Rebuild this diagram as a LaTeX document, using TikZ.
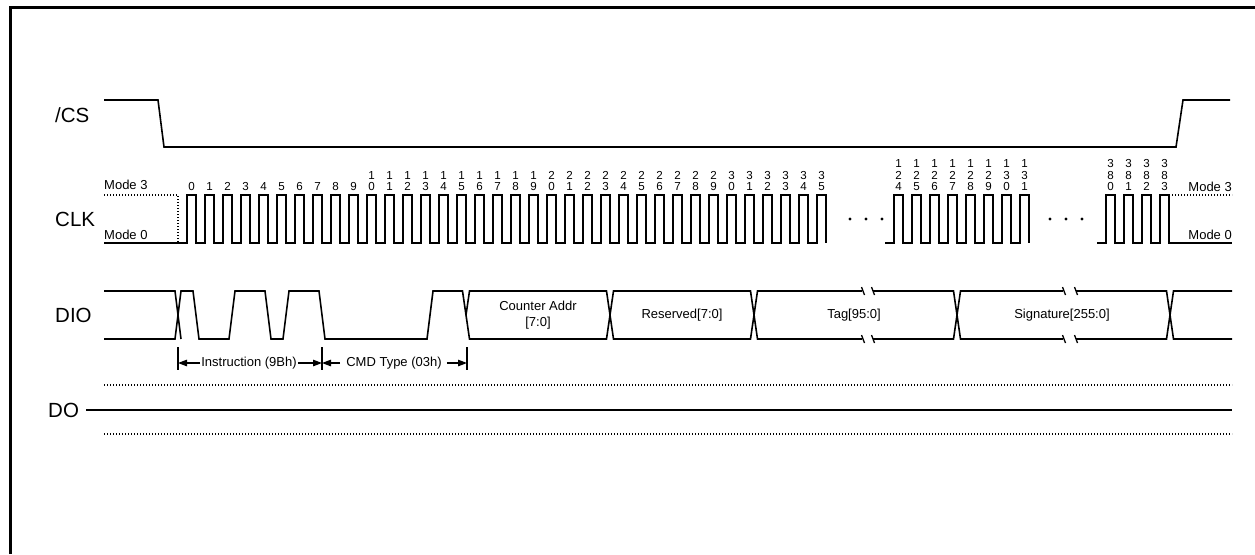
\documentclass[tikz,border=0pt]{standalone}
\usepackage{fontspec}
\setmainfont{Liberation Sans}
\usetikzlibrary{arrows.meta, positioning}

% stacked digits above one clock pulse
\newcommand{\clklabel}[2]{%
  \pgfmathtruncatemacro\dgA{mod(#2,10)}%
  \pgfmathtruncatemacro\dgB{mod(floor(#2/10),10)}%
  \pgfmathtruncatemacro\dgC{floor(#2/100)}%
  \ifnum#2<10 \node[clknum] (lbl#2) at (#1,191) {\dgA};%
  \else\ifnum#2<100 \node[clknum] (lbl#2) at (#1,191) {\dgB\\\dgA};%
  \else \node[clknum] (lbl#2) at (#1,191) {\dgC\\\dgB\\\dgA};\fi\fi}

% one bus cell between two boundaries
\newcommand{\buscell}[2]{%
  \draw[sig] (#1,315) -- (#1+3.5,291) -- (#2-3.5,291) -- (#2,315) -- (#2-3.5,339) -- (#1+3.5,339) -- cycle;}

% break mark on a bus line
\newcommand{\brk}[2]{\draw[brkline] (#1-1.5,#2-4) -- (#1+1.5,#2+4);}

\begin{document}
\begin{tikzpicture}[x=1pt,y=-1pt,>={Triangle[length=9pt,width=6.5pt]},
        sig/.style={line width=1.6pt},
        dots/.style={line width=1.2pt,dash pattern=on 1.2pt off 1.8pt},
        brkline/.style={line width=1.3pt},
        every node/.style={inner sep=0pt}]
  \tikzstyle{signame}=[anchor=west,font=\fontsize{20.5}{24}\selectfont]
  \tikzstyle{modetxt}=[anchor=base west,font=\fontsize{13}{15}\selectfont]
  \tikzstyle{clknum}=[anchor=south,align=center,font=\fontsize{11.6}{11.5}\selectfont]
  \tikzstyle{bustxt}=[align=center,font=\fontsize{13}{16.5}\selectfont]
  \tikzstyle{dim}=[line width=1.2pt]
  \useasboundingbox (0,0) rectangle (1255,554);
  \draw[line width=3pt] (10,554) -- (10,7) -- (1255,7);

  \node[signame] (cs) at (55,115) {/CS};
  \node[signame] (clk) at (55,219) {CLK};
  \node[signame] (dio) at (55,315) {DIO};
  \node[signame] (do) at (48,410) {DO};

  % /CS
  \draw[sig] (104,100) -- (158,100) -- (164,147) -- (1176,147) -- (1183,100) -- (1230,100);

  % CLK
  \node[modetxt] (m3left) at (104,189.5) {Mode 3};
  \node[modetxt] (m0left) at (104,239) {Mode 0};
  \node[modetxt,anchor=base east] (m3right) at (1232,191) {Mode 3};
  \node[modetxt,anchor=base east] (m0right) at (1232,239.5) {Mode 0};
  \draw[dots] (104,195) -- (178,195) -- (178,243);
  \draw[sig] (104,243) foreach \i in {0,...,35} { -- ({187+18*\i},243) -- ++(0,-48) -- ++(9,0) -- ++(0,48) };
  \draw[sig] (885,243) foreach \i in {0,...,7} { -- ({894+18*\i},243) -- ++(0,-48) -- ++(9,0) -- ++(0,48) };
  \draw[sig] (1097,243) foreach \i in {0,...,3} { -- ({1106+18*\i},243) -- ++(0,-48) -- ++(9,0) -- ++(0,48) } -- (1232,243);
  \draw[dots] (1169,195) -- (1232,195);
  \foreach \x in {850,866,882,1050,1066,1082} \fill (\x,219) circle (1.6);
  \foreach \n in {0,...,35} \clklabel{191.5+18*\n}{\n};
  \foreach \n [count=\k from 0] in {124,...,131} \clklabel{898.5+18*\k}{\n};
  \foreach \n [count=\k from 0] in {380,...,383} \clklabel{1110.5+18*\k}{\n};

  % DIO
  \draw[sig] (104,291) -- (175,291) -- (181,339);
  \draw[sig] (104,339) -- (175,339) -- (181,291) -- (193,291) -- (199,339) -- (229,339) -- (235,291)
    -- (265,291) -- (271,339) -- (283,339) -- (289,291) -- (319,291) -- (325,339) -- (427,339)
    -- (433,291) -- (462.5,291) -- (466,315);
  \buscell{466}{610}
  \buscell{610}{754}
  \draw[sig] (862,291) -- (757.5,291) -- (754,315) -- (757.5,339) -- (862,339);
  \draw[sig] (873,291) -- (953.5,291) -- (957,315) -- (953.5,339) -- (873,339);
  \draw[sig] (1063,291) -- (960.5,291) -- (957,315) -- (960.5,339) -- (1063,339);
  \draw[sig] (1076,291) -- (1166.5,291) -- (1170,315) -- (1166.5,339) -- (1076,339);
  \draw[sig] (1232,291) -- (1173.5,291) -- (1170,315) -- (1173.5,339) -- (1232,339);
  \brk{863}{291} \brk{873}{291} \brk{863}{339} \brk{873}{339}
  \brk{1064}{291} \brk{1076}{291} \brk{1064}{339} \brk{1076}{339}
  \node[bustxt] (addr) at (538,315) {Counter Addr\\{}[7:0]};
  \node[bustxt] (rsvd) at (682,315) {Reserved[7:0]};
  \node[bustxt] (tag) at (854,315) {Tag[95:0]};
  \node[bustxt] (sign) at (1062,315) {Signature[255:0]};

  % instruction / command spans
  \coordinate (t0) at (178,347);
  \coordinate (t1) at (322,347);
  \coordinate (t2) at (467,347);
  \foreach \t in {t0,t1,t2} \draw[dim] (\t) -- ++(0,23);
  \node[bustxt] (instr) at (249,363) {Instruction (9Bh)};
  \node[bustxt] (cmd) at (394,363) {CMD Type (03h)};
  \draw[dim,->] ([xshift=-1pt]instr.west) -- (t0 |- instr);
  \draw[dim,->] ([xshift=1pt]instr.east) -- (t1 |- instr);
  \draw[dim,->] ([xshift=-6pt]cmd.west) -- (t1 |- cmd);
  \draw[dim,->] ([xshift=5pt]cmd.east) -- (t2 |- cmd);

  % DO
  \coordinate (doend) at (1232,410);
  \draw[dots] (104,385) -- (1232,385);
  \draw[dots] (104,434) -- (1232,434);
  \draw[sig] ([xshift=7pt]do.east) -- (doend);
\end{tikzpicture}
\end{document}
